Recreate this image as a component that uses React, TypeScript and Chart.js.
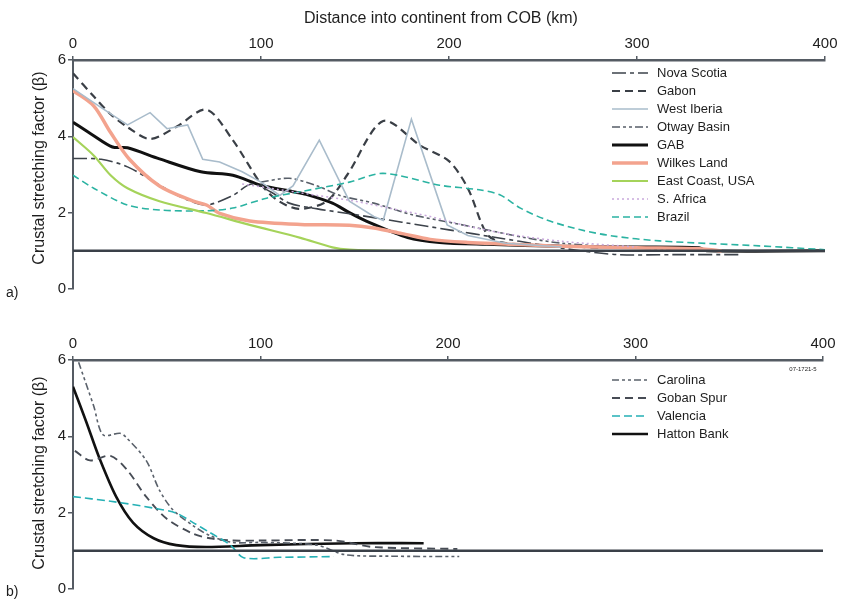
import React, { useEffect, useRef } from "react";
import { Chart, registerables } from "chart.js";

Chart.register(...registerables);

// ---------- Panel a data (distance km, stretching factor beta) ----------
const xTicks = [0, 100, 200, 300, 400];
const yTicks = [0, 2, 4, 6];
const baselineX = [0, 400];
const baselineY = [1, 1];

const novaScotiaX = [0, 15, 29, 45, 60, 71, 85, 95, 105, 115, 130, 150, 175, 200, 225, 250, 270, 290, 320, 355];
const novaScotiaY = [3.42, 3.4, 3.2, 2.75, 2.35, 2.2, 2.45, 2.75, 2.55, 2.25, 2.1, 1.95, 1.75, 1.55, 1.35, 1.15, 1.0, 0.9, 0.9, 0.9];

const gabonX = [0, 11, 20, 29, 41, 55, 71, 85, 100, 108, 120, 135, 146, 165, 185, 200, 210, 220, 228, 250, 280];
const gabonY = [5.65, 5.05, 4.58, 4.24, 3.93, 4.25, 4.7, 3.9, 2.75, 2.35, 2.1, 2.3, 3.0, 4.4, 3.75, 3.35, 2.64, 1.45, 1.22, 1.15, 1.08];

const westIberiaX = [0, 15, 29, 41, 50, 61, 69, 78, 90, 100, 110, 117, 131, 147, 160, 165, 180, 199, 210, 230, 260];
const westIberiaY = [5.25, 4.75, 4.3, 4.62, 4.2, 4.3, 3.4, 3.33, 3.07, 2.8, 2.45, 2.7, 3.9, 2.3, 1.9, 1.8, 4.45, 1.68, 1.4, 1.2, 1.1];

const otwayX = [100, 115, 130, 142, 160, 180, 200, 220, 240, 260, 290, 330];
const otwayY = [2.8, 2.9, 2.7, 2.45, 2.25, 1.95, 1.75, 1.55, 1.35, 1.2, 1.1, 1.02];

const gabX = [0, 10, 21, 29, 46, 68, 85, 100, 117, 124, 138, 147, 156, 178, 195, 220, 260, 300, 333, 337, 400];
const gabY = [4.37, 4.05, 3.72, 3.7, 3.41, 3.07, 2.98, 2.72, 2.55, 2.48, 2.25, 2.0, 1.78, 1.35, 1.22, 1.17, 1.12, 1.1, 1.08, 1.0, 1.0];

const wilkesX = [0, 11, 20, 30, 46, 64, 71, 78, 94, 121, 147, 160, 175, 190, 210, 230, 260, 300, 335, 345];
const wilkesY = [5.2, 4.8, 4.1, 3.4, 2.7, 2.3, 2.2, 1.98, 1.78, 1.69, 1.67, 1.6, 1.45, 1.3, 1.22, 1.18, 1.12, 1.08, 1.05, 1.0];

const eastCoastX = [0, 11, 20, 29, 46, 71, 94, 121, 138, 147, 170, 220];
const eastCoastY = [3.98, 3.5, 2.98, 2.64, 2.3, 1.99, 1.68, 1.34, 1.09, 1.03, 1.0, 1.0];

const sAfricaX = [90, 110, 130, 150, 170, 190, 210, 230, 260, 300];
const sAfricaY = [2.75, 2.6, 2.45, 2.3, 2.1, 1.9, 1.65, 1.45, 1.25, 1.1];

const brazilX = [0, 11, 29, 46, 71, 85, 103, 121, 147, 165, 195, 216, 227, 238, 252, 270, 287, 312, 365, 400];
const brazilY = [2.98, 2.64, 2.2, 2.07, 2.05, 2.12, 2.38, 2.55, 2.8, 3.03, 2.72, 2.6, 2.47, 2.12, 1.81, 1.55, 1.39, 1.26, 1.13, 1.03];

// ---------- Panel b data ----------
const carolinaX = [3, 11, 16, 25, 28, 39, 46, 53, 64, 73, 85, 100, 130, 145, 170, 206];
const carolinaY = [5.94, 4.8, 4.04, 4.08, 3.99, 3.37, 2.6, 2.09, 1.66, 1.4, 1.22, 1.22, 1.15, 0.9, 0.86, 0.85];

const gobanX = [1, 9, 20, 29, 39, 50, 64, 73, 85, 100, 140, 160, 205];
const gobanY = [3.62, 3.37, 3.49, 3.11, 2.42, 1.84, 1.45, 1.33, 1.27, 1.27, 1.27, 1.1, 1.05];

const valenciaX = [0, 20, 43, 55, 64, 73, 84, 91, 110, 139];
const valenciaY = [2.42, 2.3, 2.12, 1.99, 1.74, 1.48, 1.15, 0.82, 0.83, 0.85];

const hattonX = [0, 7, 14, 23, 32, 43, 55, 71, 100, 150, 187];
const hattonY = [5.3, 4.39, 3.44, 2.42, 1.74, 1.33, 1.15, 1.1, 1.15, 1.2, 1.2];

const legendA = ["Nova Scotia", "Gabon", "West Iberia", "Otway Basin", "GAB", "Wilkes Land", "East Coast, USA", "S. Africa", "Brazil"];
const legendB = ["Carolina", "Goban Spur", "Valencia", "Hatton Bank"];

const FONT = '"Liberation Sans", Arial, Helvetica, sans-serif';
const AXIS = "#555b63";
const TEXT = "#1e1e1e";

const pts = (xs: number[], ys: number[]) => xs.map((x, i) => ({ x, y: ys[i] }));

function ds(label: string, xs: number[], ys: number[], color: string, width: number, dash: number[], tension = 0.3) {
  return {
    label,
    data: pts(xs, ys),
    borderColor: color,
    backgroundColor: color,
    borderWidth: width,
    borderDash: dash,
    borderCapStyle: "butt",
    pointRadius: 0,
    fill: false,
    tension,
  };
}

const annotPlugin = {
  id: "annot",
  afterDraw(chart: any, _args: any, opts: any) {
    const ctx = chart.ctx;
    ctx.save();
    ctx.fillStyle = TEXT;
    ctx.textBaseline = "middle";
    if (opts.title) {
      ctx.font = `16px ${FONT}`;
      ctx.textAlign = "center";
      ctx.fillText(opts.title, 441, 19);
    }
    // panel label
    ctx.font = `14px ${FONT}`;
    ctx.textAlign = "left";
    ctx.fillText(opts.panel, 6, opts.panelY);
    // y title
    ctx.save();
    ctx.translate(40, opts.yTitleY);
    ctx.rotate(-Math.PI / 2);
    ctx.textAlign = "center";
    ctx.font = `16px ${FONT}`;
    ctx.fillText("Crustal stretching factor (\u03B2)", 0, 0);
    ctx.restore();
    // legend
    const labels: string[] = opts.legend;
    labels.forEach((lab: string, i: number) => {
      const d = chart.data.datasets.find((q: any) => q.label === lab);
      const y = opts.legendY + i * 18;
      if (d) {
        ctx.save();
        ctx.strokeStyle = d.borderColor;
        ctx.lineWidth = d.borderWidth;
        ctx.setLineDash(d.borderDash || []);
        ctx.beginPath();
        ctx.moveTo(612, y);
        ctx.lineTo(648, y);
        ctx.stroke();
        ctx.restore();
      }
      ctx.font = `13px ${FONT}`;
      ctx.fillStyle = TEXT;
      ctx.textAlign = "left";
      ctx.fillText(lab, 657, y);
    });
    if (opts.code) {
      ctx.font = `6px ${FONT}`;
      ctx.textAlign = "center";
      ctx.fillText(opts.code, 803, 69);
    }
    ctx.restore();
  },
};

function makeOptions(extra: any, padRight: number, padBottom: number) {
  return {
    animation: false,
    responsive: false,
    maintainAspectRatio: false,
    layout: { padding: { left: 0, right: padRight, top: 0, bottom: padBottom } },
    plugins: {
      legend: { display: false },
      tooltip: { enabled: false },
      title: { display: false },
      annot: extra,
    },
    scales: {
      x: {
        type: "linear",
        position: "top",
        min: 0,
        max: 400,
        afterBuildTicks: (s: any) => {
          s.ticks = xTicks.map((v) => ({ value: v }));
        },
        afterFit: (s: any) => {
          s.height = 60;
        },
        ticks: { font: { size: 15, family: FONT }, color: TEXT, padding: 3, maxRotation: 0 },
        grid: { drawOnChartArea: false, drawTicks: true, tickLength: 4, color: AXIS, lineWidth: 1.5 },
        border: { display: true, color: AXIS, width: 2.5 },
      },
      y: {
        type: "linear",
        position: "left",
        min: 0,
        max: 6,
        afterBuildTicks: (s: any) => {
          s.ticks = yTicks.map((v) => ({ value: v }));
        },
        afterFit: (s: any) => {
          s.width = 73;
        },
        ticks: { font: { size: 15, family: FONT }, color: TEXT, padding: 2 },
        grid: { drawOnChartArea: false, drawTicks: true, tickLength: 5, color: AXIS, lineWidth: 1.5 },
        border: { display: true, color: AXIS, width: 2 },
      },
    },
  };
}

function PanelA() {
  const ref = useRef<HTMLCanvasElement | null>(null);
  useEffect(() => {
    if (!ref.current) return;
    const chart = new Chart(ref.current, {
      type: "line",
      data: {
        datasets: [
          ds("baseline", baselineX, baselineY, "#3a4048", 2.5, [], 0),
          ds("S. Africa", sAfricaX, sAfricaY, "#c9a9dc", 1.5, [2, 3]),
          ds("East Coast, USA", eastCoastX, eastCoastY, "#a5d35a", 2.2, []),
          ds("Brazil", brazilX, brazilY, "#2bb3a2", 1.6, [7, 4]),
          ds("West Iberia", westIberiaX, westIberiaY, "#a9bccb", 1.6, [], 0),
          ds("Wilkes Land", wilkesX, wilkesY, "#f3a38e", 3.5, []),
          ds("Otway Basin", otwayX, otwayY, "#575e68", 1.6, [8, 3, 3, 3, 3, 3]),
          ds("Nova Scotia", novaScotiaX, novaScotiaY, "#3d434b", 1.6, [14, 4, 4, 4]),
          ds("Gabon", gabonX, gabonY, "#3a3f46", 2.2, [8, 5]),
          ds("GAB", gabX, gabY, "#111111", 3, []),
        ],
      },
      options: makeOptions(
        {
          title: "Distance into continent from COB (km)",
          panel: "a)",
          panelY: 293,
          yTitleY: 168,
          legend: legendA,
          legendY: 73,
        },
        18,
        8
      ) as any,
      plugins: [annotPlugin],
    });
    return () => chart.destroy();
  }, []);
  return <canvas ref={ref} width={843} height={300} style={{ display: "block", width: 843, height: 300 }} />;
}

function PanelB() {
  const ref = useRef<HTMLCanvasElement | null>(null);
  useEffect(() => {
    if (!ref.current) return;
    const chart = new Chart(ref.current, {
      type: "line",
      data: {
        datasets: [
          ds("baseline", baselineX, baselineY, "#3a4048", 2.5, [], 0),
          ds("Valencia", valenciaX, valenciaY, "#25b0b5", 1.6, [8, 4]),
          ds("Carolina", carolinaX, carolinaY, "#5a616b", 1.6, [7, 3, 3, 3, 3, 3]),
          ds("Goban Spur", gobanX, gobanY, "#474c55", 1.9, [8, 5]),
          ds("Hatton Bank", hattonX, hattonY, "#111111", 2.6, []),
        ],
      },
      options: makeOptions(
        {
          title: "",
          panel: "b)",
          panelY: 292,
          yTitleY: 173,
          legend: legendB,
          legendY: 80,
          code: "07-1721-5",
        },
        20,
        5
      ) as any,
      plugins: [annotPlugin],
    });
    return () => chart.destroy();
  }, []);
  return <canvas ref={ref} width={843} height={300} style={{ display: "block", width: 843, height: 300 }} />;
}

export default function App() {
  return (
    <div style={{ position: "absolute", left: 0, top: 0, width: 843, height: 600, background: "#fff" }}>
      <PanelA />
      <PanelB />
    </div>
  );
}
